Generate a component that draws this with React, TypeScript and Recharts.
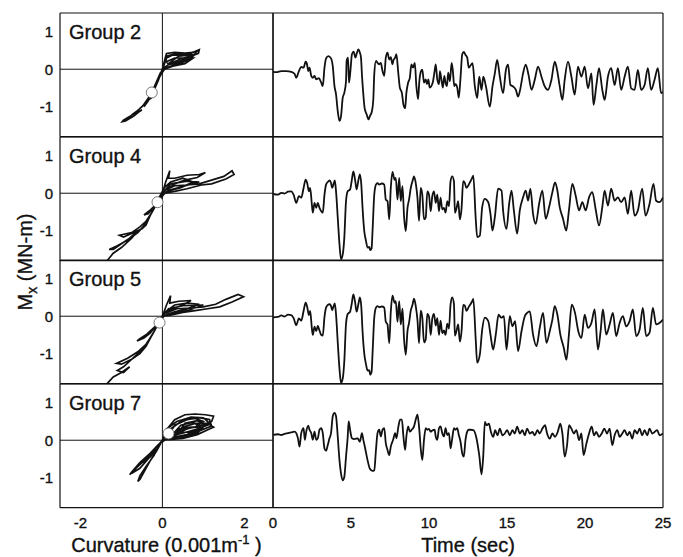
import React from 'react';
import { LineChart, Line, XAxis, YAxis, ReferenceLine, ReferenceDot } from 'recharts';

const FONT = '"Liberation Sans", Arial, Helvetica, sans-serif';
const INK = '#111';

// ticks and labels
const momentTicks = [-1, 0, 1];
const curvatureTicks = [-2, 0, 2];
const timeTicks = [0, 5, 10, 15, 20, 25];
const groupNames = ['Group 2', 'Group 4', 'Group 5', 'Group 7'];

// white markers on the hysteresis loops (curvature, moment)
const markerCurv = [-0.26, -0.12, -0.07, 0.15];
const markerMom = [-0.62, -0.24, -0.17, 0.18];

// ---- hysteresis loops: curvature (0.001/m) vs moment (MN-m)
const g2Curv = [
  0, 0.05, 0.1, 0.3, 0.55, 0.75, 0.9, 0.88, 0.7, 0.45,
  0.2, 0.05, -0.05, -0.15, -0.25, -0.32, -0.28, -0.18, -0.08, 0.02,
  0.1, 0.25, 0.5, 0.7, 0.6, 0.35, 0.15, 0.1, 0.3, 0.55,
  0.75, 0.55, 0.25, 0.05, -0.1, -0.2, -0.3, -0.4, -0.45, -0.35,
  -0.22, -0.1, 0, 0.12, 0.4, 0.65, 0.8, 0.65, 0.3, 0.05,
  -0.12, -0.3, -0.48, -0.62, -0.78, -0.95, -0.98, -0.9, -0.7, -0.55,
  -0.5, -0.6, -0.75, -0.6, -0.42, -0.28, -0.15, -0.05, 0,
  0.08, 0.35, 0.6, 0.85, 0.7, 0.4, 0.15, 0.4, 0.7, 0.5,
  0.2, 0, -0.15, -0.28, -0.36, -0.25, -0.1, 0,
];
const g2Mom = [
  0, 0.2, 0.42, 0.45, 0.43, 0.45, 0.52, 0.42, 0.35, 0.28,
  0.15, 0.05, -0.1, -0.35, -0.6, -0.8, -0.78, -0.5, -0.2, 0.05,
  0.3, 0.38, 0.36, 0.42, 0.3, 0.18, 0.12, 0.2, 0.3, 0.3,
  0.3, 0.15, 0.08, 0, -0.25, -0.55, -0.72, -0.9, -1.0, -0.85,
  -0.6, -0.3, 0, 0.35, 0.4, 0.38, 0.4, 0.25, 0.1, 0.02,
  -0.3, -0.7, -0.98, -1.12, -1.25, -1.36, -1.4, -1.38, -1.25, -1.12,
  -1.08, -1.15, -1.22, -1.1, -0.92, -0.68, -0.4, -0.12, 0,
  0.35, 0.42, 0.42, 0.48, 0.3, 0.2, 0.15, 0.35, 0.38, 0.22,
  0.08, 0, -0.38, -0.7, -0.85, -0.62, -0.25, 0,
];

const g4Curv = [
  0, 0.08, 0.18, 0.15, 0.3, 0.6, 0.9, 1.05, 0.85, 0.55,
  0.3, 0.1, 0.3, 0.6, 0.9, 1.2, 1.5, 1.7, 1.75, 1.55,
  1.2, 0.95, 0.6, 0.3, 0.05, -0.05, -0.15, -0.3, -0.45, -0.35,
  -0.22, -0.12, 0.05, 0.2, 0.5, 0.75, 0.45, 0.1, -0.1, -0.25,
  -0.4, -0.55, -0.75, -1.05, -0.95, -0.7, -0.5, -0.4, -0.3, -0.15,
  0, 0.2, 0.6, 0.9, 0.5, 0.15, -0.05, -0.2, -0.4, -0.6,
  -0.85, -1.1, -1.3, -1.2, -1.0, -0.8, -0.6, -0.75, -1.0, -1.2, -1.35,
];
const g4Mom = [
  0, 0.3, 0.6, 0.4, 0.4, 0.48, 0.5, 0.55, 0.42, 0.35,
  0.25, 0.1, 0.2, 0.22, 0.25, 0.35, 0.45, 0.6, 0.5, 0.38,
  0.25, 0.22, 0.12, 0.05, 0, -0.15, -0.3, -0.45, -0.58, -0.55,
  -0.4, -0.2, 0.15, 0.3, 0.4, 0.3, 0.15, 0.05, -0.2, -0.5,
  -0.75, -0.9, -1.05, -1.12, -1.17, -1.05, -0.95, -0.85, -0.6, -0.3,
  0, 0.25, 0.32, 0.3, 0.18, 0.08, -0.1, -0.4, -0.8, -1.05,
  -1.25, -1.4, -1.5, -1.5, -1.35, -1.2, -1.0, -1.2, -1.45, -1.6, -1.8,
];

const g5Curv = [
  0, 0.1, 0.2, 0.18, 0.4, 0.7, 0.5, 0.25, 0.08, 0.35,
  0.7, 1.0, 1.3, 1.55, 1.85, 1.98, 1.7, 1.4, 1.1, 0.8,
  0.5, 0.2, 0, -0.08, -0.2, -0.38, -0.55, -0.62, -0.45, -0.3,
  -0.15, 0.05, 0.3, 0.6, 0.9, 0.6, 0.3, 0.05, -0.1, -0.25,
  -0.4, -0.6, -0.85, -1.12, -1.0, -0.75, -0.55, -0.4, -0.25, -0.1,
  0, 0.15, 0.5, 1.0, 0.7, 0.3, 0, -0.2, -0.45, -0.7,
  -0.95, -1.1, -0.95, -0.8, -1.0, -1.2, -1.35,
];
const g5Mom = [
  0, 0.3, 0.55, 0.35, 0.4, 0.42, 0.3, 0.2, 0.08, 0.2,
  0.22, 0.25, 0.32, 0.45, 0.58, 0.52, 0.38, 0.25, 0.2, 0.15,
  0.1, 0.03, 0, -0.18, -0.3, -0.48, -0.6, -0.66, -0.58, -0.45,
  -0.25, 0.1, 0.3, 0.35, 0.32, 0.2, 0.12, 0.02, -0.2, -0.5,
  -0.75, -0.95, -1.12, -1.26, -1.28, -1.15, -1.0, -0.8, -0.5, -0.2,
  0, 0.2, 0.28, 0.3, 0.18, 0.08, 0, -0.4, -0.85, -1.1,
  -1.35, -1.45, -1.5, -1.35, -1.5, -1.62, -1.8,
];

const g7Curv = [
  0, 0.15, 0.3, 0.55, 0.8, 1.05, 1.25, 1.2, 0.95, 0.6,
  0.3, 0.1, 0.3, 0.6, 0.9, 1.15, 1.2, 0.9, 0.55, 0.25,
  0.5, 0.8, 1.1, 1.25, 1.15, 0.85, 0.5, 0.2, 0.4, 0.7,
  1.0, 0.8, 0.6, 0.35, 0.15, 0.05, -0.1, -0.3, -0.55, -0.75,
  -0.8, -0.7, -0.5, -0.3, -0.15, -0.2, -0.4, -0.55, -0.6, -0.55,
  -0.45, -0.3, -0.15, 0, 0.2, 0.45, 0.75, 1.0, 0.8, 0.5,
  0.3, 0.6, 0.9, 0.6, 0.3, 0, -0.2, -0.45, -0.65, -0.7,
  -0.55, -0.35, -0.15, 0,
  0.1, 0.35, 0.7, 1.0, 1.15, 0.9, 0.6, 0.35, 0.55, 0.85,
  1.1, 0.8, 0.45, 0.2, 0.45, 0.75, 1.0, 0.7, 0.4, 0.1, 0,
];
const g7Mom = [
  0, 0.35, 0.55, 0.68, 0.7, 0.68, 0.64, 0.5, 0.4, 0.3,
  0.15, 0.05, 0.4, 0.55, 0.6, 0.55, 0.38, 0.25, 0.12, 0.05,
  0.35, 0.45, 0.45, 0.35, 0.3, 0.15, 0.05, 0.02, 0.3, 0.35,
  0.35, 0.25, 0.15, 0.1, 0.1, 0, -0.12, -0.35, -0.6, -0.85,
  -0.92, -0.8, -0.6, -0.45, -0.25, -0.4, -0.7, -0.95, -1.1, -1.05,
  -0.85, -0.55, -0.3, 0, 0.3, 0.5, 0.6, 0.5, 0.35, 0.3,
  0.2, 0.22, 0.2, 0.1, 0.05, 0, -0.25, -0.55, -0.75, -0.85,
  -0.75, -0.5, -0.2, 0,
  0.3, 0.5, 0.62, 0.6, 0.45, 0.32, 0.22, 0.15, 0.45, 0.52,
  0.4, 0.28, 0.18, 0.1, 0.4, 0.48, 0.3, 0.12, 0.08, 0.02, 0,
];

// ---- moment time histories: time (sec) and Mx (MN-m)
const g2Time = [
  0, 0.21, 0.53, 0.85, 1.17, 1.38, 1.49, 1.66, 1.81, 1.96,
  2.09, 2.17, 2.26, 2.34, 2.45, 2.55, 2.66, 2.77, 2.94, 3.09,
  3.19, 3.3, 3.4, 3.55, 3.72, 3.83, 3.94, 4.04, 4.15, 4.26,
  4.36, 4.47, 4.57, 4.68, 4.72, 4.81, 4.87, 4.96, 5.06, 5.17,
  5.28, 5.36, 5.47, 5.57, 5.64, 5.7, 5.79, 5.87, 6.0, 6.13,
  6.21, 6.34, 6.43, 6.49, 6.6, 6.7, 6.81, 6.91, 7.02, 7.13,
  7.23, 7.34, 7.45, 7.55, 7.66, 7.72, 7.83, 7.91, 8.02, 8.13,
  8.26, 8.36, 8.47, 8.55, 8.66, 8.77, 8.87, 8.98, 9.09, 9.19,
  9.3, 9.38, 9.49, 9.57, 9.68, 9.79, 9.87, 9.96, 10.04, 10.15,
  10.26, 10.36, 10.43, 10.53, 10.64, 10.7, 10.81, 10.89, 10.98, 11.06,
  11.15, 11.23, 11.34, 11.45, 11.53, 11.62, 11.7, 11.81, 11.91, 12.02,
  12.13, 12.23, 12.34, 12.45, 12.55, 12.66,
  12.79, 12.94, 13.09, 13.22, 13.37, 13.48, 13.65, 13.9, 14.07, 14.22,
  14.37, 14.54, 14.75, 14.93, 15.07, 15.22, 15.39, 15.57, 15.71, 15.86,
  16.03, 16.2, 16.38, 16.57, 16.78, 16.99, 17.21, 17.42, 17.63, 17.85,
  18.06, 18.21, 18.38, 18.55, 18.7, 18.91, 19.13, 19.34, 19.55, 19.77,
  19.98, 20.19, 20.41, 20.55, 20.72, 20.9, 21.11, 21.26, 21.47, 21.68,
  21.9, 22.11, 22.32, 22.54, 22.75, 22.96, 23.18, 23.39, 23.6, 23.82,
  24.03, 24.24, 24.46, 24.67, 24.88, 25,
];
const g2Mx = [
  -0.07, -0.08, -0.05, -0.05, -0.07, -0.12, -0.23, -0.05, 0.06, 0.04,
  0.2, 0.15, -0.05, 0.04, -0.18, -0.23, -0.18, -0.27, -0.24, -0.36,
  -0.45, 0.04, 0.29, 0.35, 0.29, 0.08, -0.45, -0.67, -1.12, -1.38,
  -1.25, -0.76, -0.63, -0.32, 0.22, 0.31, -0.36, -0.05, 0.4, 0.47,
  0.31, 0.41, 0.53, 0.44, 0.31, -0.14, -0.67, -1.03, -1.2, -1.34,
  -1.25, -1.12, -0.8, -0.14, 0.22, 0.17, 0.13, 0.17, -0.05, -0.18,
  0.31, 0.44, 0.26, 0.32, 0.13, 0.24, 0.31, 0.4, -0.05, -0.49,
  -0.63, -0.94, -1.04, -0.63, -0.36, -0.23, 0.13, 0.04, 0.17, -0.45,
  -0.8, -0.32, -0.05, -0.01, -0.36, -0.27, -0.4, -0.27, -0.49, -0.45,
  -0.32, -0.05, 0.13, -0.27, -0.4, -0.05, -0.32, -0.49, -0.18, -0.36,
  -0.45, -0.09, -0.32, 0.17, -0.05, -0.45, -0.4, -0.49, -0.76, -0.23,
  0.4, 0.46, 0.38, 0.31, 0.04, 0.1,
  0.16, -0.46, -0.77, -0.2, -0.55, -0.2, -0.46, -1.0, -0.46, -0.11,
  0.25, -0.2, -0.64, -0.02, 0.12, -0.42, -0.46, -0.55, -0.73, -0.51,
  -0.11, 0.12, -0.15, -0.55, -0.28, 0.07, -0.2, -0.46, -0.55, -0.28,
  0.2, -0.02, -0.46, -0.82, -0.28, 0.2, -0.2, -0.68, 0.07, -0.2,
  0.07, -0.51, -0.11, -0.95, -0.46, 0.03, -0.55, -0.82, -0.2, 0.03,
  -0.42, 0.03, -0.55, -0.2, 0.07, -0.51, -0.55, -0.02, -0.55, -0.42,
  0.03, -0.55, -0.28, 0.03, -0.64, -0.6,
];

const g4Time = [
  0, 0.32, 0.53, 0.74, 0.96, 1.17, 1.32, 1.49, 1.66, 1.81,
  1.96, 2.09, 2.19, 2.3, 2.38, 2.49, 2.55, 2.66, 2.77, 2.87,
  2.98, 3.09, 3.19, 3.3, 3.4, 3.51, 3.62, 3.72, 3.79, 3.87,
  3.96, 4.04, 4.15, 4.26, 4.36, 4.47, 4.57, 4.68, 4.79, 4.94,
  5.04, 5.15, 5.26, 5.36, 5.47, 5.57, 5.66, 5.74, 5.85, 5.96,
  6.06, 6.17, 6.23, 6.32, 6.38, 6.49, 6.6, 6.7, 6.81, 6.98,
  7.13, 7.23, 7.34, 7.45, 7.55, 7.66, 7.79, 7.87, 7.98, 8.09,
  8.19, 8.3, 8.4, 8.51, 8.62, 8.72, 8.83, 8.94, 9.04, 9.15,
  9.26, 9.36, 9.47, 9.57, 9.68, 9.79, 9.89, 10.0, 10.11, 10.21,
  10.32, 10.43, 10.53, 10.64, 10.74, 10.85, 10.96, 11.06, 11.17, 11.28,
  11.38, 11.49, 11.6, 11.66, 11.77, 11.87, 11.98, 12.09, 12.19, 12.3,
  12.4, 12.55, 12.66, 12.77, 12.84,
  12.99, 13.09, 13.26, 13.41, 13.58, 13.8, 13.94, 14.07, 14.22, 14.43,
  14.65, 14.75, 14.97, 15.14, 15.29, 15.44, 15.65, 15.82, 16.03, 16.2,
  16.35, 16.5, 16.67, 16.84, 17.06, 17.27, 17.48, 17.7, 17.91, 18.08,
  18.21, 18.38, 18.59, 18.8, 18.97, 19.19, 19.4, 19.62, 19.83, 20.04,
  20.26, 20.47, 20.68, 20.9, 21.11, 21.26, 21.47, 21.68, 21.9, 22.11,
  22.32, 22.54, 22.75, 22.96, 23.18, 23.39, 23.67, 23.88, 24.14, 24.39,
  24.56, 24.77, 25,
];
const g4Mx = [
  -0.02, -0.04, 0.01, -0.01, 0.04, 0.05, -0.04, -0.26, -0.08, -0.12,
  0.14, 0.36, 0.27, 0.05, 0.14, -0.3, -0.52, -0.26, -0.39, -0.26,
  -0.39, -0.48, -0.52, -0.04, 0.23, 0.3, 0.34, 0.27, 0.14, 0.23,
  0.34, 0.05, -0.65, -1.36, -1.76, -1.63, -1.19, -0.21, 0.05, 0.1,
  0.32, 0.58, 0.36, 0.1, 0.34, 0.5, 0.23, -0.39, -1.01, -1.27,
  -1.45, -1.43, -1.52, -1.47, -1.01, -0.04, 0.23, 0.27, 0.23, 0.26,
  0.23, -0.17, -0.21, -0.7, 0.14, 0.57, 0.36, 0.41, -0.17, 0.41,
  -0.21, 0.19, -0.61, -1.01, -0.39, -0.17, 0.14, 0.32, 0.45, 0.27,
  -0.12, -0.74, 0.14, -0.04, -0.7, -0.65, 0.05, -0.04, -0.48, -0.08,
  0.05, -0.26, -0.04, -0.48, -0.12, -0.43, -0.39, -0.52, -0.21, -0.35,
  0.32, 0.45, 0.32, -0.52, -0.39, -0.21, -0.7, -0.39, 0.32, 0.27,
  0.14, 0.23, 0.32, 0.41, 0.47,
  -0.64, -1.17, -1.13, -0.37, -0.15, -0.24, -0.55, -1.0, -0.64, 0.12,
  0.07, -0.46, -0.95, -0.28, 0.07, -0.46, -1.08, -0.46, -0.11, 0.07,
  -0.2, 0.12, -0.55, -0.82, -0.28, 0.07, -0.68, -0.37, 0.03, 0.29,
  0.12, -0.37, -0.68, -1.0, -0.46, 0.25, -0.06, -0.46, -0.24, -0.46,
  -0.11, 0.03, -0.42, -0.86, -0.37, 0.07, -0.33, 0.12, -0.2, -0.11,
  -0.24, -0.11, -0.55, 0.07, -0.6, -0.46, 0.12, -0.6, -0.28, 0.25,
  -0.2, -0.24, -0.11,
];

const g5Time = [
  0, 0.32, 0.53, 0.74, 0.96, 1.17, 1.32, 1.49, 1.66, 1.81,
  1.96, 2.09, 2.19, 2.3, 2.38, 2.49, 2.55, 2.66, 2.77, 2.87,
  2.98, 3.09, 3.19, 3.3, 3.4, 3.51, 3.62, 3.72, 3.79, 3.87,
  3.96, 4.04, 4.15, 4.26, 4.36, 4.47, 4.57, 4.68, 4.79, 4.94,
  5.04, 5.15, 5.26, 5.36, 5.47, 5.57, 5.66, 5.74, 5.85, 5.96,
  6.06, 6.17, 6.23, 6.32, 6.38, 6.49, 6.6, 6.7, 6.81, 6.98,
  7.13, 7.23, 7.34, 7.45, 7.55, 7.66, 7.79, 7.87, 7.98, 8.09,
  8.19, 8.3, 8.4, 8.51, 8.62, 8.72, 8.83, 8.94, 9.04, 9.15,
  9.26, 9.36, 9.47, 9.57, 9.68, 9.79, 9.89, 10.0, 10.11, 10.21,
  10.32, 10.43, 10.53, 10.64, 10.74, 10.85, 10.96, 11.06, 11.17, 11.28,
  11.38, 11.49, 11.6, 11.66, 11.77, 11.87, 11.98, 12.09, 12.19, 12.3,
  12.4, 12.55, 12.66, 12.77, 12.84,
  12.99, 13.09, 13.26, 13.41, 13.58, 13.8, 13.94, 14.11, 14.28, 14.46,
  14.63, 14.8, 14.97, 15.18, 15.35, 15.52, 15.71, 15.93, 16.14, 16.29,
  16.46, 16.67, 16.89, 17.1, 17.31, 17.53, 17.74, 17.91, 18.06, 18.23,
  18.42, 18.64, 18.81, 18.97, 19.15, 19.36, 19.57, 19.77, 19.98, 20.19,
  20.41, 20.62, 20.83, 21.0, 21.15, 21.36, 21.58, 21.79, 22.0, 22.22,
  22.43, 22.64, 22.86, 23.07, 23.28, 23.5, 23.71, 23.92, 24.14, 24.35,
  24.56, 24.77, 25,
];
const g5Mx = [
  -0.03, -0.02, 0.02, -0.01, 0.04, 0.03, -0.05, -0.24, -0.06, -0.12,
  0.14, 0.36, 0.25, 0.03, 0.14, -0.32, -0.5, -0.28, -0.4, -0.26,
  -0.38, -0.5, -0.52, -0.02, 0.23, 0.3, 0.32, 0.27, 0.16, 0.25,
  0.34, 0.05, -0.7, -1.4, -1.78, -1.66, -1.2, -0.2, 0.06, 0.12,
  0.32, 0.58, 0.38, 0.12, 0.32, 0.5, 0.25, -0.4, -1.0, -1.28,
  -1.45, -1.44, -1.56, -1.48, -1.0, -0.04, 0.23, 0.27, 0.24, 0.26,
  0.23, -0.15, -0.22, -0.72, 0.12, 0.55, 0.36, 0.4, -0.15, 0.4,
  -0.22, 0.2, -0.6, -1.03, -0.4, -0.18, 0.15, 0.3, 0.47, 0.27,
  -0.1, -0.72, 0.15, -0.04, -0.7, -0.62, 0.06, -0.02, -0.5, -0.06,
  0.06, -0.25, -0.05, -0.5, -0.12, -0.45, -0.38, -0.5, -0.2, -0.33,
  0.3, 0.5, 0.32, -0.52, -0.38, -0.22, -0.68, -0.38, 0.3, 0.28,
  0.14, 0.25, 0.32, 0.4, 0.46,
  -0.58, -1.24, -1.02, -0.36, -0.04, -0.13, -0.49, -0.89, -0.49, 0.04,
  -0.04, 0, -0.89, 0, -0.27, -0.13, -0.93, -0.4, 0, 0.09,
  0.13, -0.49, -0.8, -0.31, 0.09, -0.71, -0.4, -0.09, 0.27, 0.04,
  -0.49, -0.84, -1.16, -0.49, 0.31, 0.09, -0.4, -0.58, 0.04, -0.31,
  -0.18, 0.18, -0.89, -0.4, 0.18, -0.49, -0.22, 0.09, -0.53, -0.18,
  0, -0.27, -0.13, 0.18, -0.53, -0.36, 0.22, -0.53, -0.44, 0.22,
  -0.22, -0.18, -0.09,
];

const g7Time = [
  0, 0.32, 0.53, 0.74, 0.96, 1.17, 1.38, 1.49, 1.6, 1.7,
  1.81, 1.96, 2.04, 2.13, 2.26, 2.34, 2.45, 2.55, 2.66, 2.77,
  2.87, 2.98, 3.09, 3.19, 3.3, 3.4, 3.51, 3.62, 3.72, 3.83,
  3.94, 4.04, 4.15, 4.26, 4.36, 4.47, 4.57, 4.68, 4.79, 4.85,
  4.94, 5.06, 5.21, 5.43, 5.57, 5.7, 5.79, 5.91, 6.06, 6.21,
  6.38, 6.49, 6.6, 6.7, 6.81, 6.91, 7.02, 7.13, 7.23, 7.34,
  7.45, 7.55, 7.7, 7.83, 7.91, 8.04, 8.15, 8.26, 8.36, 8.47,
  8.55, 8.66, 8.77, 8.89, 9.04, 9.15, 9.26, 9.36, 9.47, 9.57,
  9.68, 9.79, 9.89, 10.0, 10.11, 10.21, 10.36, 10.43, 10.53, 10.64,
  10.74, 10.85, 10.96, 11.06, 11.17, 11.28, 11.38, 11.49, 11.6, 11.7,
  11.81, 11.91, 12.02, 12.13, 12.23, 12.34, 12.45, 12.55, 12.66,
  12.84, 13.05, 13.22, 13.37, 13.48, 13.58, 13.69, 13.84, 13.97, 14.12,
  14.24, 14.39, 14.54, 14.71, 14.86, 15.01, 15.18, 15.35, 15.5, 15.65,
  15.82, 15.99, 16.14, 16.29, 16.46, 16.63, 16.78, 16.95, 17.1, 17.27,
  17.44, 17.57, 17.74, 17.91, 18.08, 18.25, 18.42, 18.55, 18.7, 18.85,
  18.98, 19.13, 19.28, 19.45, 19.62, 19.77, 19.91, 20.09, 20.26, 20.43,
  20.58, 20.72, 20.9, 21.07, 21.24, 21.41, 21.58, 21.75, 21.9, 22.07,
  22.22, 22.39, 22.54, 22.71, 22.86, 23.03, 23.18, 23.35, 23.5, 23.67,
  23.82, 23.99, 24.14, 24.31, 24.46, 24.63, 24.78, 25,
];
const g7Mx = [
  0.14, 0.16, 0.14, 0.17, 0.19, 0.21, 0.23, 0.19, 0.05, -0.17,
  0.19, 0.32, 0.01, 0.23, 0.39, 0.28, 0.19, 0.01, 0.23, 0.01,
  0.05, 0.28, 0.32, 0.19, -0.22, -0.28, -0.13, 0.05, 0.19, 0.64,
  0.73, 0.64, 0.1, -0.53, -0.89, -1.07, -0.98, -0.44, 0.1, 0.5,
  0.28, 0.05, 0.03, 0.05, -0.04, 0.19, 0.01, -0.22, -0.53, -0.76,
  -0.82, -0.8, -0.26, 0.19, 0.28, 0.1, 0.28, 0.32, -0.08, -0.26,
  -0.4, -0.17, 0.01, 0.19, 0.05, 0.37, 0.55, 0.55, 0.1, -0.26,
  0.1, 0.37, 0.23, 0.28, 0.37, 0.55, 0.68, 0.37, -0.22, -0.53,
  0.01, 0.32, 0.28, 0.3, 0.23, 0.26, 0.28, 0.1, 0.01, 0.32,
  0.37, 0.19, 0.1, 0.32, 0.14, 0.19, -0.22, 0.05, 0.32, 0.28,
  0.32, 0.14, -0.04, -0.35, -0.44, 0.01, 0.23, 0.28, 0.28,
  0.27, 0.04, -0.4, -0.91, -0.4, 0.49, 0.4, 0.44, 0.22, 0.09,
  0.27, 0.13, 0.31, 0.13, 0.18, 0.27, 0.13, 0.27, 0.18, 0.36,
  0.18, 0.27, 0.13, 0.31, 0.18, 0.22, 0.13, 0.27, 0.18, 0.31,
  0.4, 0.18, 0.04, 0.18, 0.09, 0.22, 0.44, 0.18, -0.44, -0.13,
  0.4, 0.31, 0.18, 0.27, 0, 0.18, -0.4, -0.09, 0.18, 0.36,
  0.13, 0.22, 0.09, 0.18, 0.31, 0.18, 0.31, -0.13, 0.13, 0.27,
  0.09, 0.18, 0.27, 0.13, 0.22, 0.04, 0.27, 0.18, 0.31, 0.13,
  0.27, 0.13, 0.31, 0.18, 0.22, 0.27, 0.13, 0.18,
];

const loopCurv = [g2Curv, g4Curv, g5Curv, g7Curv];
const loopMom = [g2Mom, g4Mom, g5Mom, g7Mom];
const traceTime = [g2Time, g4Time, g5Time, g7Time];
const traceMx = [g2Mx, g4Mx, g5Mx, g7Mx];

// ---- layout (page pixels)
const ROW_TOP = 13;
const ROW_H = 123.7;
const LEFT_X0 = 60;
const MID_X = 273;
const RIGHT_X1 = 663;
const PAD = 6;
const PAD_R = 14;
const BOTTOM_EXTRA = 46;

const MOMENT_DOMAIN: [number, number] = [-1.8, 1.5];
const CURV_DOMAIN: [number, number] = [-2.5, 2.7];
const TIME_DOMAIN: [number, number] = [0, 25];

const frame = { stroke: INK, strokeWidth: 1.2 };
// a hairline outline thickens the text a little, like the scanned original
const textInk = { fill: INK, stroke: INK, strokeWidth: 0.35 };
const tickFont = { fontSize: 15, fontFamily: FONT, ...textInk };

function zip(xs: number[], ys: number[], kx: string, ky: string) {
  const n = Math.min(xs.length, ys.length);
  const out: Record<string, number>[] = [];
  for (let i = 0; i < n; i++) out.push({ [kx]: xs[i], [ky]: ys[i] });
  return out;
}

const curvatureTitle = (props: any) => {
  const vb = props.viewBox;
  return (
    <text x={vb.x + vb.width / 2} y={vb.y + 44} textAnchor="middle" fontFamily={FONT} fontSize={20} {...textInk}>
      Curvature (0.001m<tspan dy={-8} fontSize={13}>-1</tspan><tspan dy={8}> )</tspan>
    </text>
  );
};

const timeTitle = (props: any) => {
  const vb = props.viewBox;
  return (
    <text x={vb.x + vb.width / 2} y={vb.y + 44} textAnchor="middle" fontFamily={FONT} fontSize={20} {...textInk}>
      Time (sec)
    </text>
  );
};

const groupLabel = (name: string) => (props: any) => {
  const vb = props.viewBox;
  return (
    <text x={vb.x + vb.width + 9} y={vb.y + 26} fontFamily={FONT} fontSize={20} {...textInk}>
      {name}
    </text>
  );
};

function LoopPanel({ row, last }: { row: number; last: boolean }) {
  const data = zip(loopCurv[row], loopMom[row], 'c', 'm');
  const h = ROW_H + 2 * PAD + (last ? BOTTOM_EXTRA : 0);
  return (
    <div style={{ position: 'absolute', left: 0, top: ROW_TOP + row * ROW_H - PAD }}>
      <LineChart width={MID_X + PAD} height={h} data={data} margin={{ top: PAD, right: PAD, bottom: PAD, left: 0 }}>
        <XAxis xAxisId="x" dataKey="c" type="number" domain={CURV_DOMAIN} allowDataOverflow ticks={curvatureTicks}
          interval={0} orientation="bottom" mirror tick={false} tickSize={4} axisLine={frame} tickLine={frame} />
        <XAxis xAxisId="xt" dataKey="c" type="number" domain={CURV_DOMAIN} allowDataOverflow ticks={curvatureTicks}
          interval={0} orientation="top" mirror tick={false} tickSize={4} axisLine={frame} tickLine={frame} />
        {last && (
          <XAxis xAxisId="xl" dataKey="c" type="number" domain={CURV_DOMAIN} allowDataOverflow ticks={curvatureTicks}
            interval={0} orientation="bottom" height={BOTTOM_EXTRA} axisLine={false} tickLine={false} tickSize={0}
            tickMargin={10} tick={tickFont} label={curvatureTitle} />
        )}
        <YAxis yAxisId="y" type="number" domain={MOMENT_DOMAIN} allowDataOverflow ticks={momentTicks} interval={0}
          orientation="left" mirror tick={false} tickSize={4} axisLine={frame} tickLine={frame} />
        <YAxis yAxisId="yl" type="number" domain={MOMENT_DOMAIN} allowDataOverflow ticks={momentTicks} interval={0}
          orientation="left" width={LEFT_X0} axisLine={false} tickLine={false} tickSize={0} tickMargin={7}
          tick={tickFont} label={groupLabel(groupNames[row])} />
        <YAxis yAxisId="yr" type="number" domain={MOMENT_DOMAIN} allowDataOverflow ticks={momentTicks} interval={0}
          orientation="right" mirror tick={false} tickSize={4} axisLine={frame} tickLine={frame} />
        <ReferenceLine xAxisId="x" yAxisId="y" x={0} stroke={INK} strokeWidth={1} />
        <ReferenceLine xAxisId="x" yAxisId="y" y={0} stroke={INK} strokeWidth={1} />
        <Line xAxisId="x" yAxisId="y" dataKey="m" type="linear" stroke={INK} strokeWidth={1.7}
          dot={false} activeDot={false} isAnimationActive={false} />
        <ReferenceDot xAxisId="x" yAxisId="y" x={markerCurv[row]} y={markerMom[row]} r={5.5}
          fill="#fff" stroke="#555" strokeWidth={0.8} />
      </LineChart>
    </div>
  );
}

function TracePanel({ row, last }: { row: number; last: boolean }) {
  const data = zip(traceTime[row], traceMx[row], 't', 'v');
  const h = ROW_H + 2 * PAD + (last ? BOTTOM_EXTRA : 0);
  return (
    <div style={{ position: 'absolute', left: MID_X - PAD, top: ROW_TOP + row * ROW_H - PAD }}>
      <LineChart width={RIGHT_X1 - MID_X + PAD + PAD_R} height={h} data={data}
        margin={{ top: PAD, right: PAD_R, bottom: PAD, left: PAD }}>
        <XAxis xAxisId="x" dataKey="t" type="number" domain={TIME_DOMAIN} allowDataOverflow ticks={timeTicks}
          interval={0} orientation="bottom" mirror tick={false} tickSize={4} axisLine={frame} tickLine={frame} />
        <XAxis xAxisId="xt" dataKey="t" type="number" domain={TIME_DOMAIN} allowDataOverflow ticks={timeTicks}
          interval={0} orientation="top" mirror tick={false} tickSize={4} axisLine={frame} tickLine={frame} />
        {last && (
          <XAxis xAxisId="xl" dataKey="t" type="number" domain={TIME_DOMAIN} allowDataOverflow ticks={timeTicks}
            interval={0} orientation="bottom" height={BOTTOM_EXTRA} axisLine={false} tickLine={false} tickSize={0}
            tickMargin={10} tick={tickFont} label={timeTitle} />
        )}
        <YAxis yAxisId="y" type="number" domain={MOMENT_DOMAIN} allowDataOverflow ticks={momentTicks} interval={0}
          orientation="left" mirror tick={false} tickSize={4} axisLine={frame} tickLine={frame} />
        <YAxis yAxisId="yr" type="number" domain={MOMENT_DOMAIN} allowDataOverflow ticks={momentTicks} interval={0}
          orientation="right" mirror tick={false} tickSize={4} axisLine={frame} tickLine={frame} />
        <Line xAxisId="x" yAxisId="y" dataKey="v" type="monotone" stroke={INK} strokeWidth={1.8}
          dot={false} activeDot={false} isAnimationActive={false} />
      </LineChart>
    </div>
  );
}

export default function App() {
  return (
    <div style={{ position: 'absolute', left: 0, top: 0, width: 683, height: 557, background: '#fff', overflow: 'hidden' }}>
      {groupNames.map((name, i) => (
        <React.Fragment key={name}>
          <LoopPanel row={i} last={i === groupNames.length - 1} />
          <TracePanel row={i} last={i === groupNames.length - 1} />
        </React.Fragment>
      ))}
      {/* shared y-axis title */}
      <svg width={50} height={557} style={{ position: 'absolute', left: 0, top: 0 }}>
        <text transform="translate(32, 262) rotate(-90)" textAnchor="middle" fontFamily={FONT} fontSize={20} {...textInk}>
          M<tspan dy={5} fontSize={14}>x</tspan><tspan dy={-5}> (MN-m)</tspan>
        </text>
      </svg>
    </div>
  );
}
